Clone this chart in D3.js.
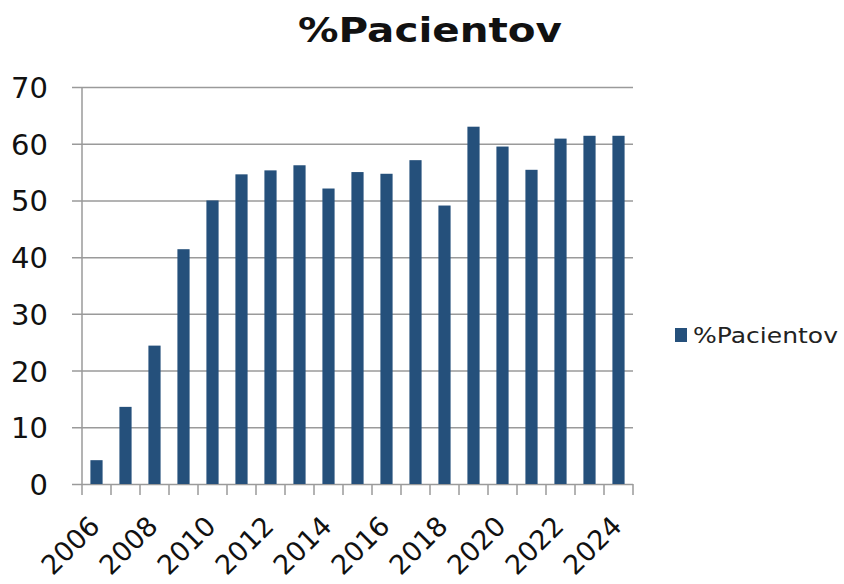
<!DOCTYPE html>
<html>
<head>
<meta charset="utf-8">
<script src="https://cdn.jsdelivr.net/npm/d3@7"></script>
<style>
  body { margin: 0; background: #fff; }
  svg { display: block; font-family: "DejaVu Sans", Verdana, sans-serif; }
</style>
</head>
<body>
<div class="main"></div>
<script>
// Values
const years = ["2006", "2007", "2008", "2009", "2010", "2011", "2012", "2013", "2014", "2015",
               "2016", "2017", "2018", "2019", "2020", "2021", "2022", "2023", "2024"]
const pacientov = [4.2, 13.6, 24.4, 41.4, 50.0, 54.6, 55.3, 56.2, 52.1, 55.0,
                   54.7, 57.1, 49.1, 63.0, 59.5, 55.4, 60.9, 61.4, 61.4]
const xTickLabels = ["2006", "2008", "2010", "2012", "2014", "2016", "2018", "2020", "2022", "2024"]
const yTicks = [0, 10, 20, 30, 40, 50, 60, 70]
const seriesName = "%Pacientov"

const width = 844
const height = 584
const margin = ({top: 87, right: 211, bottom: 100, left: 82})
const barColor = "#25507b"
const gridColor = "#9a9a9a"
const font = "DejaVu Sans, Verdana, sans-serif"

const data = years.map((y, i) => ({year: y, value: pacientov[i]}))

const svg = d3.select(".main").append("svg")
    .attr("width", width)
    .attr("height", height)

const xScale = d3.scaleBand()
    .domain(years)
    .range([margin.left, width - margin.right])
    .paddingInner(0.58)
    .paddingOuter(0.29)

const yScale = d3.scaleLinear()
    .domain([0, 70])
    .range([height - margin.bottom - 0, margin.top])

// Gridlines + y labels
const yAxis = svg.append("g")
    .attr("transform", `translate(${margin.left - 10}, 0)`)
    .call(d3.axisLeft(yScale)
        .tickValues(yTicks)
        .tickSize(-(width - margin.right - margin.left + 10))
        .tickPadding(24)
        .tickFormat(d3.format("d")))
    .attr("font-family", font)
yAxis.select(".domain").remove()
yAxis.selectAll("line")
    .attr("stroke", gridColor)
    .attr("stroke-width", 1.5)
yAxis.selectAll("text")
    .attr("font-size", 29)
    .attr("fill", "#111")
    .attr("dy", "0.36em")

// vertical axis line
svg.append("line")
    .attr("x1", margin.left).attr("x2", margin.left)
    .attr("y1", yScale(70)).attr("y2", yScale(0) + 11)
    .attr("stroke", gridColor)
    .attr("stroke-width", 1.5)

// tick marks between categories
const boundaries = years.map(y => xScale(y) - (xScale.step() - xScale.bandwidth()) / 2)
boundaries.push(width - margin.right)
svg.append("g")
    .selectAll("line")
    .data(boundaries.slice(1))
    .join("line")
        .attr("x1", d => d).attr("x2", d => d)
        .attr("y1", yScale(0)).attr("y2", yScale(0) + 11)
        .attr("stroke", gridColor)
        .attr("stroke-width", 1.5)

// Bars
svg.append("g")
    .selectAll("rect")
    .data(data)
    .join("rect")
        .attr("fill", barColor)
        .attr("x", d => xScale(d.year))
        .attr("y", d => yScale(d.value))
        .attr("width", xScale.bandwidth())
        .attr("height", d => yScale(0) - yScale(d.value))

// x labels, rotated
const xAxis = svg.append("g")
    .attr("transform", `translate(0, ${yScale(0)})`)
    .call(d3.axisBottom(xScale).tickValues(xTickLabels).tickSize(0))
    .attr("font-family", font)
xAxis.select(".domain").remove()
xAxis.selectAll("text")
    .attr("font-size", 27)
    .attr("fill", "#111")
    .attr("text-anchor", "end")
    .attr("dy", "0.35em")
    .attr("transform", "translate(-4, 35) rotate(-45)")

// Title
svg.append("text")
    .text(seriesName)
    .attr("x", 430)
    .attr("y", 42)
    .attr("text-anchor", "middle")
    .attr("font-size", 33)
    .attr("font-weight", "bold")
    .attr("fill", "#111")
    .attr("textLength", 264)
    .attr("lengthAdjust", "spacingAndGlyphs")

// Legend
const legend = svg.append("g")
    .attr("transform", "translate(675, 328)")
legend.append("rect")
    .attr("width", 12)
    .attr("height", 14)
    .attr("fill", barColor)
legend.append("text")
    .text(seriesName)
    .attr("x", 18)
    .attr("y", 15)
    .attr("font-size", 22)
    .attr("fill", "#222")
    .attr("textLength", 145)
    .attr("lengthAdjust", "spacingAndGlyphs")
</script>
</body>
</html>
